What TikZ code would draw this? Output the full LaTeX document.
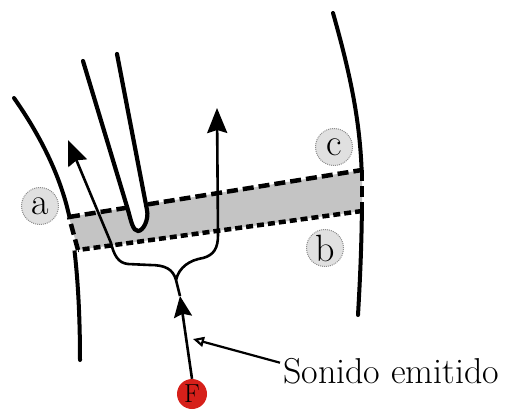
\documentclass[tikz,border=0pt]{standalone}
\usetikzlibrary{arrows.meta,calc}
\definecolor{bandgray}{RGB}{196,196,196}
\definecolor{tagfill}{RGB}{224,224,224}
\definecolor{tagline}{RGB}{140,140,140}
\definecolor{srcred}{RGB}{214,32,26}
\begin{document}
\begin{tikzpicture}[x=1pt,y=-1pt,
  wall/.style={line width=4pt,line cap=round},
  tube/.style={line width=4.2pt,line cap=round,fill=white},
  ray/.style={line width=2.6pt},
  bighead/.style={-{Stealth[length=25pt,width=20pt,inset=3pt]}},
  midhead/.style={-{Stealth[length=21pt,width=18pt,inset=3pt]}},
  edgedash/.style={line width=4.5pt,dash pattern=on 11pt off 5pt},
  edgedot/.style={line width=4.5pt,dash pattern=on 7pt off 4pt},
  tag/.style={circle,minimum size=37pt,inner sep=0pt,fill=tagfill,
    draw=tagline,densely dotted,line width=1pt,font=\fontsize{38}{38}\selectfont},
  pointer/.style={line width=2.2pt,-{Triangle[open,length=11pt,width=10pt]}},
]
\useasboundingbox (0,0) rectangle (513,410);

% the two walls, interrupted where the band crosses them
\begin{scope}[even odd rule]
  \clip (0,0) rectangle (513,410)
    (40,221.6) -- (390,165.5) -- (390,207.2) -- (40,255.2) -- cycle;
  \draw[wall] (14,98) .. controls (40,135) and (60,175) .. (69,215)
    .. controls (76,250) and (80,300) .. (80,360);
  \draw[wall] (333,13) .. controls (352,80) and (362,130) .. (362,190)
    .. controls (362,240) and (360,280) .. (358,315);
\end{scope}

% the grey band with its dashed outline
\fill[bandgray] (69,217) -- (362,170) -- (362,211) -- (78,250) -- cycle;
\draw[edgedash] (69,217) -- (362,170);
\draw[edgedash] (362,170) -- (362,211);
\draw[edgedot] (362,211) -- (78,250);
\draw[edgedash] (78,250) -- (69,217);

% the U-shaped tube dipping into the band
\draw[tube] (83,61) -- (128,210) .. controls (131,221) and (133,231) .. (138,231)
  .. controls (143,231) and (149,220) .. (147,210) -- (117,54);

% source and rays
\node[circle,fill=srcred,minimum size=30pt,inner sep=0pt,
  font=\fontsize{26}{26}\selectfont] (F) at (192,394) {F};
\coordinate (headS) at (180,296);
\coordinate (split) at (176,280);
\coordinate (tipL) at (68,140);
\coordinate (tipR) at (217,108);

\draw[ray,midhead] (F.north) -- (headS);
\draw[ray] (headS) -- (split);
\draw[ray,bighead] (split) .. controls (173,269) and (165,265) .. (150,265)
  -- (128,264) .. controls (118,263) and (114,255) .. (111,243) -- (tipL);
\draw[ray,bighead] (split) .. controls (179,267) and (190,260) .. (203,258)
  .. controls (214,255) and (218,248) .. (218,235) -- (tipR);

% labels
\node[tag] (a) at (40,206) {a};
\node[tag] (b) at (325,248) {b};
\node[tag] (c) at (334,147) {c};

\node[font=\fontsize{36}{36}\selectfont,anchor=base west,inner sep=0pt]
  (lbl) at (283,383) {Sonido emitido};
\coordinate (aim) at (193,339);
\draw[pointer] ($(lbl.west)+(-3,-8)$) -- (aim);
\end{tikzpicture}
\end{document}
